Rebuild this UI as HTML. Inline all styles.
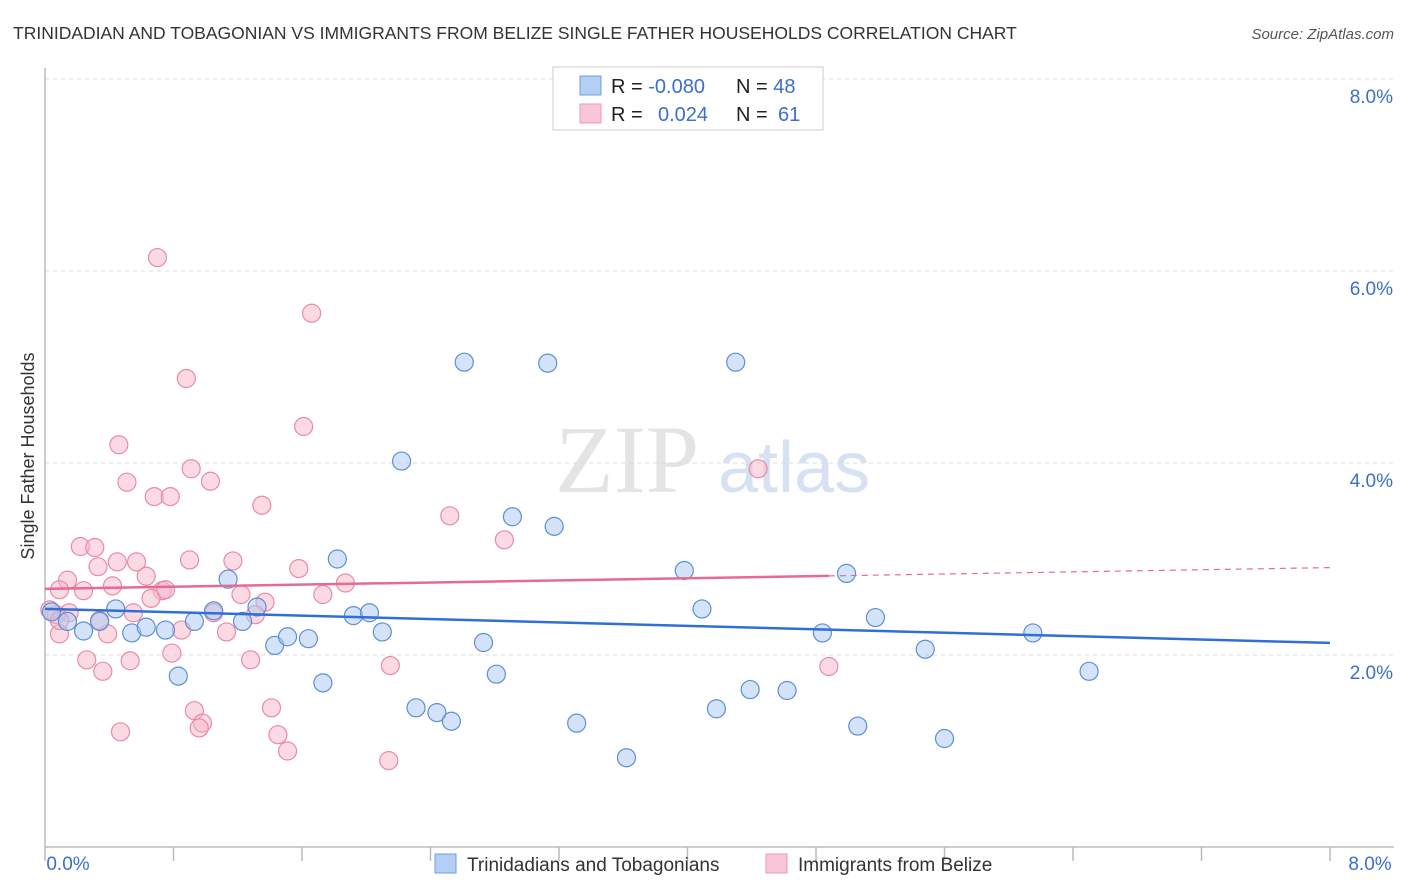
<!DOCTYPE html>
<html><head><meta charset="utf-8"><style>
body{margin:0;background:#fff;font-family:"Liberation Sans",sans-serif;}
svg{display:block}
</style></head><body>
<svg id="c" width="1406" height="892" xmlns="http://www.w3.org/2000/svg">
<text x="13" y="39" font-size="17.5" fill="#333">TRINIDADIAN AND TOBAGONIAN VS IMMIGRANTS FROM BELIZE SINGLE FATHER HOUSEHOLDS CORRELATION CHART</text>
<text x="1394" y="39" font-size="15" fill="#555" font-style="italic" text-anchor="end">Source: ZipAtlas.com</text>
<text x="555" y="492" font-size="96" fill="#e4e4e4" font-family="Liberation Serif,serif">ZIP</text>
<text x="718" y="492" font-size="72" fill="#d6e2f3">atlas</text>
<text transform="translate(34,456) rotate(-90)" font-size="18" fill="#333" text-anchor="middle">Single Father Households</text>
<g id="grid"></g><g id="marks"></g>
<g>
<rect x="553" y="67" width="270" height="63" fill="#fff" stroke="#ccc"/>
<rect x="580" y="76" width="21" height="19" fill="#b4cff3" stroke="#6d9de0"/>
<rect x="580" y="104" width="21" height="19" fill="#f9c6d5" stroke="#ec9ab3"/>
<text x="611" y="93" font-size="20" fill="#222">R = <tspan fill="#3a6fd0">-0.080</tspan></text>
<text x="736" y="93" font-size="20" fill="#222">N = <tspan fill="#3a6fd0">48</tspan></text>
<text x="611" y="121" font-size="20" fill="#222">R = <tspan fill="#3a6fd0" x="658">0.024</tspan></text>
<text x="736" y="121" font-size="20" fill="#222">N = <tspan fill="#3a6fd0" x="778">61</tspan></text>
</g>
<g>
<rect x="435" y="854" width="21" height="19" fill="#b4cff3" stroke="#6d9de0"/>
<text x="467" y="871" font-size="19" fill="#333">Trinidadians and Tobagonians</text>
<rect x="766" y="854" width="21" height="19" fill="#f9c6d5" stroke="#ec9ab3"/>
<text x="798" y="871" font-size="19" fill="#333">Immigrants from Belize</text>
</g>
</svg>
<script>
const yTicks=[2,4,6,8];
const xTickLabels=["0.0%","8.0%"];
const blueX=[0.04,0.14,0.24,0.34,0.44,0.54,0.63,0.75,0.83,0.93,1.05,1.14,1.23,1.32,1.43,1.51,1.64,1.73,1.82,1.92,2.02,2.1,2.22,2.31,2.44,2.53,2.61,2.73,2.81,2.91,3.13,3.17,3.31,3.62,3.98,4.09,4.18,4.3,4.39,4.62,4.84,4.99,5.06,5.17,5.48,5.6,6.15,6.5];
const blueY=[2.45,2.35,2.25,2.35,2.48,2.23,2.29,2.26,1.78,2.35,2.46,2.79,2.35,2.5,2.1,2.19,2.17,1.71,3.0,2.41,2.44,2.24,4.02,1.45,1.4,1.31,5.05,2.13,1.8,3.44,5.04,3.34,1.29,0.93,2.88,2.48,1.44,5.05,1.64,1.63,2.23,2.85,1.26,2.39,2.06,1.13,2.23,1.83];
const pinkX=[0.7,1.66,0.88,1.61,0.46,0.91,0.51,1.03,0.68,0.78,1.35,2.52,2.86,4.44,0.22,0.31,0.57,0.45,0.33,0.9,1.17,1.58,0.14,0.63,0.42,0.24,0.09,0.73,0.75,0.66,1.22,1.73,1.87,0.55,1.05,1.37,0.15,0.07,1.31,0.09,0.39,0.85,1.13,0.26,0.53,0.79,1.28,0.36,2.15,4.88,0.93,1.41,0.98,0.96,0.47,1.45,1.51,2.14,0.34,0.03,0.09];
const pinkY=[6.14,5.56,4.88,4.38,4.19,3.94,3.8,3.81,3.65,3.65,3.56,3.45,3.2,3.94,3.13,3.12,2.97,2.97,2.92,2.99,2.98,2.9,2.78,2.82,2.72,2.67,2.68,2.67,2.68,2.59,2.63,2.63,2.75,2.44,2.44,2.55,2.44,2.42,2.42,2.22,2.22,2.26,2.24,1.95,1.94,2.02,1.95,1.83,1.89,1.88,1.42,1.45,1.29,1.24,1.2,1.17,1.0,0.9,2.36,2.47,2.36];
const X0=45,X1=1330,Y0=847,Y8=79;
const sx=v=>X0+(X1-X0)*v/8, sy=v=>Y0-(Y0-Y8)*v/8;
const NS="http://www.w3.org/2000/svg";
function mk(t,a,p){const e=document.createElementNS(NS,t);for(const k in a)e.setAttribute(k,a[k]);p.appendChild(e);return e;}
const grid=document.getElementById('grid'),marks=document.getElementById('marks');
yTicks.forEach(v=>{
 const l=mk('line',{x1:X0,x2:1394,y1:sy(v),y2:sy(v),stroke:'#ddd','stroke-dasharray':'4,4'},grid);
 
 
 const t=mk('text',{x:1393,y:sy(v)+24,'font-size':19,fill:'#3a6fd0','text-anchor':'end'},grid);
 t.textContent=v.toFixed(1)+'%';
 
 
});
const ax=mk('line',{x1:X0,x2:X0,y1:68,y2:Y0,stroke:'#bbb','stroke-width':1.5},grid);


const bx=mk('line',{x1:X0,x2:1394,y1:Y0,y2:Y0,stroke:'#bbb','stroke-width':1.5},grid);


for(let i=0;i<=10;i++){const x=X0+(X1-X0)*i/10;const t=mk('line',{x1:x,x2:x,y1:Y0,y2:Y0+14,stroke:'#bbb','stroke-width':1.5},grid);
 
 }
[[68,xTickLabels[0]],[1370,xTickLabels[1]]].forEach(([x,s])=>{const t=mk('text',{x:x,y:870,'font-size':19,fill:'#3a6fd0','text-anchor':'middle'},grid);t.textContent=s;
 
 });
function fit(xs,ys){const n=xs.length,mx=xs.reduce((a,b)=>a+b)/n,my=ys.reduce((a,b)=>a+b)/n;let sxy=0,sxx=0;xs.forEach((x,i)=>{sxy+=(x-mx)*(ys[i]-my);sxx+=(x-mx)**2});const b=sxy/sxx;return[my-b*mx,b];}
function dots(xs,ys,fill,stroke,name){xs.forEach((x,i)=>{const c=mk('circle',{cx:sx(x),cy:sy(ys[i]),r:9,fill:fill,'fill-opacity':0.5,stroke:stroke,'stroke-width':1.2},marks);
 
 });}
dots(pinkX,pinkY,'#f7b6ca','#e88aa8','belize-point');
dots(blueX,blueY,'#a9c8f0','#5b8fd8','trinidadian-point');
const [ba,bb]=fit(blueX,blueY);
const bl=mk('line',{x1:sx(0),y1:sy(ba),x2:sx(8),y2:sy(ba+bb*8),stroke:'#2f6fd6','stroke-width':2.5},marks);


const [pa,pb]=fit(pinkX,pinkY);const pm=Math.max(...pinkX);
const pl=mk('line',{x1:sx(0),y1:sy(pa),x2:sx(pm),y2:sy(pa+pb*pm),stroke:'#e66a92','stroke-width':2.5},marks);


const pd=mk('line',{x1:sx(pm),y1:sy(pa+pb*pm),x2:sx(8),y2:sy(pa+pb*8),stroke:'#e66a92','stroke-width':1.2,'stroke-dasharray':'6,5'},marks);


</script>
</body></html>
